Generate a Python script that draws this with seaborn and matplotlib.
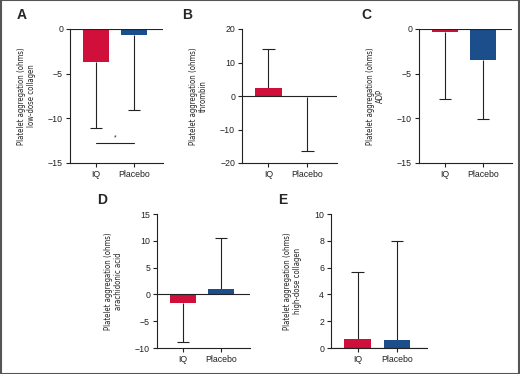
import numpy as np
import pandas as pd
import matplotlib
matplotlib.use("Agg")
import matplotlib.pyplot as plt
from matplotlib import font_manager
import seaborn as sns
from matplotlib.patches import Rectangle

sns.set_style("ticks")
plt.rcParams['font.family'] = ['Liberation Sans', 'DejaVu Sans']

# narrow face for the y labels if one is installed
lab_family, lab_size, lab_stretch = ['Liberation Sans', 'DejaVu Sans'], 5.4, 'normal'
try:
    font_manager.findfont('Liberation Sans Narrow', fallback_to_default=False)
    lab_family, lab_size = ['Liberation Sans Narrow', 'DejaVu Sans'], 6.6
except Exception:
    fp = font_manager.FontProperties(family='DejaVu Sans', stretch='condensed')
    if 'Condensed' in font_manager.findfont(fp):
        lab_family, lab_size, lab_stretch = ['DejaVu Sans'], 5.6, 'condensed'

# data
groups = ['IQ', 'Placebo']
colors = ['#D0103A', '#1B4E8A']

panels = ['A', 'B', 'C', 'D', 'E']
agonists = ['low-dose collagen', 'thrombin', 'ADP', 'arachidonic acid', 'high-dose collagen']
means_a = [-3.7, -0.7]
means_b = [2.3, -0.3]
means_c = [-0.3, -3.45]
means_d = [-1.6, 1.05]
means_e = [0.7, 0.58]
# end point of the (one-sided) error bar
ends_a = [-11.1, -9.1]
ends_b = [14.1, -16.5]
ends_c = [-7.8, -10.1]
ends_d = [-8.9, 10.45]
ends_e = [5.7, 7.98]
ylims = [(-15, 0), (-20, 20), (-15, 0), (-10, 15), (0, 10)]
yticks = [[-15, -10, -5, 0], [-20, -10, 0, 10, 20], [-15, -10, -5, 0],
          [-10, -5, 0, 5, 10, 15], [0, 2, 4, 6, 8, 10]]
means = [means_a, means_b, means_c, means_d, means_e]
ends = [ends_a, ends_b, ends_c, ends_d, ends_e]
sig_y = -12.75

W, H = 520, 374
fig = plt.figure(figsize=(W / 100, H / 100), dpi=100)

# axes boxes in pixels: left, top, right, bottom
boxes = [(70, 29, 163, 163), (242, 29, 337, 163), (419, 29, 512, 163),
         (157, 214, 250, 348), (331, 214, 427, 348)]
letter_pos = [(17, 15), (182, 15), (361, 15), (97, 200), (278, 200)]

for i in range(5):
    l, t, r, b = boxes[i]
    ax = fig.add_axes([l / W, 1 - b / H, (r - l) / W, (b - t) / H])
    df = pd.DataFrame({'group': groups, 'value': means[i]})
    sns.barplot(data=df, x='group', y='value', hue='group', palette=colors,
                errorbar=None, width=0.68, saturation=1, legend=False, ax=ax,
                edgecolor='none', zorder=2)
    x = np.arange(len(groups))
    # one-sided whiskers with a cap at the end only
    ax.vlines(x, means[i], ends[i], color='#222222', lw=0.8, zorder=1)
    ax.hlines(ends[i], x - 0.16, x + 0.16, color='#222222', lw=0.8, zorder=1)
    ax.axhline(0, color='#222222', lw=0.8, zorder=3)
    ax.set_xlim(-0.68, 1.76)
    ax.set_ylim(*ylims[i])
    ax.set_yticks(yticks[i])
    ax.set_yticklabels([str(v) if v >= 0 else '\u2212' + str(-v) for v in yticks[i]])
    ax.set_xlabel('')
    ax.set_ylabel('Platelet aggregation (ohms)\n' + agonists[i],
                  family=lab_family, fontsize=lab_size, fontstretch=lab_stretch,
                  linespacing=1.1, labelpad=9)
    sns.despine(ax=ax)
    for s in ['left', 'bottom']:
        ax.spines[s].set_linewidth(0.8)
        ax.spines[s].set_color('#222222')
    ax.tick_params(labelsize=6.3, length=3, width=0.8, color='#222222',
                   pad=2, labelcolor='#222222')
    fig.text(letter_pos[i][0] / W, 1 - letter_pos[i][1] / H, panels[i],
             fontsize=10, fontweight='bold', ha='left', va='center')
    if i == 0:
        ax.plot([0, 1], [sig_y, sig_y], color='#222222', lw=0.8)
        ax.text(0.5, sig_y + 0.15, '*', ha='center', va='bottom', fontsize=5)

fig.patches.append(Rectangle((0.001, 0.001), 0.998, 0.998, transform=fig.transFigure,
                             fill=False, edgecolor='#555555', lw=1.5))

fig.savefig('out.png', dpi=100)
